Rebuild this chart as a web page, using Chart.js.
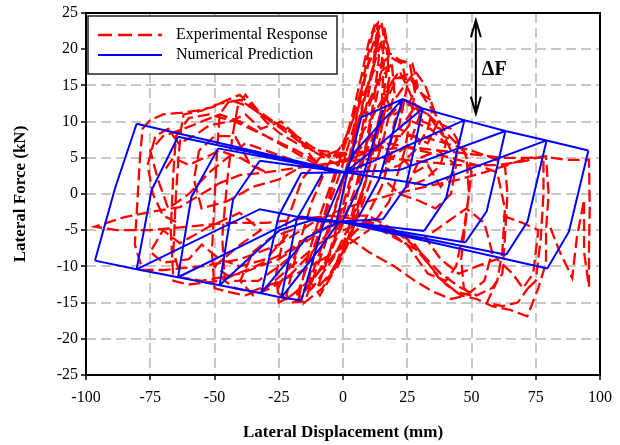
<!DOCTYPE html>
<html>
<head>
<meta charset="utf-8">
<script src="https://cdn.jsdelivr.net/npm/chart.js@4"></script>
<style>
    html, body { margin: 0; padding: 0; background: #fff; }
</style>
</head>
<body>
<canvas id="chart" width="620" height="445"></canvas>
<script>
// Axis ticks
const xTicks = [-100, -75, -50, -25, 0, 25, 50, 75, 100];
const yTicks = [-25, -20, -15, -10, -5, 0, 5, 10, 15, 20, 25];

// Numerical prediction (blue) as [disp mm, force kN]
const numEnvelopePos = [[7.1,10.6],[23.2,13.1],[31,11.8],[47.2,10.2],[63.2,8.7],[79.2,7.4],[95.5,6.0]];
const numEnvelopeNeg = [[-96.5,-9.2],[-80.3,-10.4],[-64.2,-11.5],[-48,-12.6],[-31.8,-13.7],[-24,-14.3],[-16.2,-14.7]];
const numUnloadPos = [
    [[95.5,6.0],[87.9,-5.2],[79.5,-10.3]],
    [[79.2,7.4],[71.8,-3.8],[63.5,-8.4]],
    [[63.2,8.7],[55.9,-2.4],[47.6,-6.7]],
    [[47.2,10.2],[40.1,-0.6],[31.6,-5.1]],
    [[31,11.8],[24.5,1.0],[15.5,-3.5]],
    [[23.2,13.1],[14,2.0],[6,-3.2]],
    [[15.5,11.6],[7,1.5],[0,-3.6]]
];
const numSlipPos = [
    [[79.5,-10.3],[-1.4,-3.8]],
    [[63.5,-8.4],[-1.4,-3.8]],
    [[47.6,-6.7],[-1.4,-3.8]],
    [[31.6,-5.1],[-1.4,-3.8]],
    [[15.5,-3.5],[-1.4,-3.8]]
];
const numReloadNeg = [
    [[-1.4,-3.8],[-9.1,-3.8],[-24,-2.7],[-32.4,-2.1],[-80.3,-10.4]],
    [[-1.4,-3.8],[-16.2,-3.1],[-64.2,-11.5]],
    [[-1.4,-3.8],[-12,-3.6],[-24.7,-5],[-48,-12.6]],
    [[-1.4,-3.8],[-14,-6],[-31.8,-13.7]],
    [[-1.4,-3.8],[-10,-8],[-24,-14.3]]
];
const numUnloadNeg = [
    [[-96.5,-9.2],[-88.7,0.8],[-80.3,9.7]],
    [[-80.3,-10.4],[-74.5,0.5],[-64.2,7.9]],
    [[-64.2,-11.5],[-59,-0.4],[-48.6,6.3]],
    [[-48,-12.6],[-42.8,-0.8],[-32.4,4.6]],
    [[-31.8,-13.7],[-25,-3],[-16.2,2.9]],
    [[-24,-14.3],[-18,-3.5],[-8,2.8]],
    [[-16.2,-14.7],[-8,-4.5],[0.8,3.0]]
];
const numSlipNeg = [
    [[-80.3,9.7],[0.8,3.0]],
    [[-64.2,7.9],[0.8,3.0]],
    [[-48.6,6.3],[0.8,3.0]],
    [[-32.4,4.6],[0.8,3.0]],
    [[-16.2,2.9],[0.8,3.0]]
];
const numReloadPos = [
    [[0.8,3.0],[24.5,1.7],[32.3,1.2],[79.2,7.4]],
    [[0.8,3.0],[21.9,3.3],[63.2,8.7]],
    [[0.8,3.0],[11.6,4.5],[47.2,10.2]],
    [[0.8,3.0],[8,5],[31,11.8]],
    [[0.8,3.0],[5,6],[23.2,13.1]],
    [[-2.6,-4.0],[1.9,3.3],[7.1,10.6]]
];

// Experimental response (red), traced loop by loop
const expCore = [[0,0],[3,6],[6,12],[9,18],[12,23],[13.5,23.6],[11.5,17],[8,10],[4,3],[0,-3],[-5,-8],[-10,-11],[-14,-13],[-11,-8],[-6,-2],[-1,3],[4,9],[8,15],[11,20],[15,23.8],[16,21],[14,15],[10,8],[5,1],[0,-4],[-6,-9],[-12,-12],[-17,-14],[-14,-9],[-9,-3],[-4,2],[1,7],[6,13],[10,18],[14,21],[17,20],[18,16],[14,9],[9,2],[3,-4],[-4,-9],[-12,-13],[-19,-15],[-22,-14],[-18,-8],[-12,-1],[-6,4],[0,7],[6,12],[12,17],[18,19],[23,18],[25,15],[21,8],[15,1],[8,-4],[0,-7],[-10,-11],[-20,-14],[-25,-15],[-26,-11],[-22,-4],[-16,2],[-9,5],[-2,6],[5,9],[13,15],[20,18.5],[26,18],[28,14],[24,6],[18,-1],[10,-5],[2,-7],[-8,-9]];
const expCore2 = [[-18,-14],[-14,-10],[-9,-5],[-5,0],[-1,5],[3,10],[7,16],[10,21],[12,23],[14,19],[12,13],[9,7],[6,1],[2,-5],[-3,-10],[-8,-13],[-15,-15],[-11,-11],[-7,-7],[-3,-2],[1,3],[5,8],[9,14],[13,19],[16,22],[18,20],[16,14],[12,7],[8,1],[4,-4],[0,-8],[-5,-11],[-10,-13],[-6,-9],[-2,-4],[2,1],[6,6],[10,12],[15,17],[19,18],[20,14],[16,8],[11,2],[6,-3],[1,-7],[-4,-11],[-9,-14],[-13,-12],[-8,-7],[-4,-3],[0,2],[4,7],[8,13],[12,18],[14,22],[16,19],[15,12],[11,5],[7,-1],[3,-6],[-2,-10],[-7,-12]];
const expUpperRight = [[5,3],[12,8],[18,12],[24,15],[28,17],[32,15],[35,12],[33,9],[28,6],[22,4],[15,3],[20,7],[27,10],[34,9],[40,7],[38,4],[32,2],[25,1],[30,5],[37,6],[44,4],[42,0],[36,-2],[30,-1],[22,0],[16,2],[20,10],[24,13],[30,11],[26,7],[19,5],[14,7],[18,15],[22,17],[26,14],[31,10],[38,9],[42,6]];
const expUpperRight2 = [[16,23],[18,19.5],[22,18.5],[27,18],[29,15],[25,12],[20,11],[17,13],[21,16],[25,16.5],[30,14],[34,13],[37,10],[33,7],[27,8],[22,9],[28,12],[33,11],[39,8],[45,7],[43,3],[38,1],[33,4],[28,3],[23,5]];
const expUpperLeft = [[-10,4],[-20,6],[-30,8],[-40,10],[-48,11],[-55,10],[-62,9],[-70,8],[-75,6],[-72,2],[-68,-2],[-60,0],[-52,3],[-45,5],[-38,7],[-30,6],[-22,5],[-15,4],[-25,2],[-35,1],[-45,-1],[-55,-2],[-58,2],[-56,6],[-50,8],[-42,8],[-36,4],[-30,3],[-40,5],[-48,6],[-54,5],[-60,4],[-66,5],[-70,3]];
const expUpperLeft2 = [[-5,3],[-12,5],[-18,8],[-24,10],[-32,9],[-38,11],[-44,10],[-52,9.5],[-58,8],[-64,7],[-68,9],[-73,8],[-76,4],[-74,0],[-70,-3],[-64,-4]];
const expLowerLeft = [[-5,-5],[-12,-8],[-20,-11],[-28,-13],[-35,-14],[-40,-12],[-35,-8],[-28,-6],[-20,-5],[-30,-9],[-40,-10],[-48,-9],[-55,-7],[-60,-9],[-70,-9.5],[-75,-8],[-70,-5],[-63.5,-6.8],[-52,-4.5],[-40.2,-2.6],[-32,-5],[-40,-7],[-50,-10],[-42,-12],[-33,-12],[-25,-10],[-18,-8],[-26,-13.5],[-20,-15],[-14,-14.8]];
const expLowerRight = [[2,-6],[10,-8],[20,-10],[28,-12],[35,-13.5],[42,-14.5],[48,-14],[55,-12],[58,-8],[55,-4],[48,-2],[40,-4],[32,-6],[38,-9],[45,-11],[52,-10],[60,-9],[66,-11],[70,-13],[74,-11],[76,-5],[70,-4],[62,-3]];
const expLoop50 = [[-8,-9],[-18,-11],[-28,-12.5],[-36,-13.5],[-42,-13],[-46,-12],[-47,-6],[-45,2],[-43,8],[-41,12],[-38,13.7],[-33,11.5],[-27,10],[-20,8.5],[-12,6.5],[-5,5],[3,6],[12,11],[20,16],[27,16],[32,13],[36,11],[40,8.5],[44,7],[48,5.5],[49,0],[47,-5],[44,-10],[40,-12],[33,-11],[25,-7],[17,-5],[8,-4],[0,-5],[-10,-7],[-20,-10],[-30,-13],[-38,-14],[-45,-13.5],[-50,-13],[-51,-8],[-50,-1],[-49,6],[-48,11],[-44,13],[-36,12],[-28,10],[-20,8],[-12,6],[-3,5],[6,6],[16,10],[24,13],[30,12],[36,10],[42,9],[47,6],[50,3],[48,-3],[46,-9],[47,-13],[50,-14],[44,-13.5],[37,-11.5],[28,-7],[20,-5],[10,-3],[0,-3]];
const expLoop75 = [[0,-3],[-12,-6],[-25,-9],[-40,-11],[-55,-12],[-63,-11.5],[-66,-8],[-65,0],[-64,5],[-63,9],[-62,11],[-55,11.5],[-48,12.5],[-40,13],[-32,11],[-22,9],[-12,6],[-2,4],[10,6],[20,8],[30,8],[40,7],[50,6],[58,5],[63,4],[64,0],[63,-6],[62,-11],[58,-13],[52,-14],[46,-13],[38,-11],[30,-8],[20,-6],[10,-4],[0,-4],[-10,-5],[-22,-8],[-34,-10],[-48,-12],[-60,-12.5],[-66,-12],[-67,-5],[-66,3],[-65,8],[-60,10.5],[-52,11],[-42,10],[-30,8],[-18,6],[-8,4],[4,5],[18,7],[30,6],[42,5],[52,4],[60,3],[63,-2],[62,-8],[60,-12],[56,-15],[62,-15.5],[68,-15],[72,-13]];
const expLoop80 = [[72,-13],[75,-12],[77,-6],[78,0],[78,5],[72,5],[64,4],[55,3],[45,2],[32,1],[20,0],[10,-1],[0,-2],[-12,-4],[-25,-7],[-40,-9],[-55,-10],[-70,-10.5],[-78,-10.5],[-81,-7],[-80,-1],[-79,5],[-78,9],[-75,10.2],[-70,11],[-63.5,11.2],[-57,11.5],[-50.7,12],[-45,13],[-40.2,13.7],[-35,12],[-30,10],[-24.7,8.4],[-18,7],[-11.8,6.1],[-5,5.8],[2,5.6],[12,6],[25,6.5],[38,6],[50,5.5],[62,5],[72,5],[79,5.2],[80,0],[79,-5],[79,-9.5],[76,-13],[71.7,-16.9],[65,-16],[58,-15.5],[52,-14.5],[46,-14],[40,-12.5],[34,-10],[27,-7],[20,-5],[12,-4],[5,-3.5]];
const expLoop100 = [[5,-3.5],[-5,-3],[-18,-3.5],[-30,-4],[-45,-4],[-60,-4.5],[-75,-5],[-88,-5],[-96.5,-4.5],[-85,-3.2],[-75,-2.5],[-63.5,-1.8],[-55,0],[-48,1.5],[-40.2,2.6],[-30,3],[-20,3.5],[-10,4],[0,4.5],[15,5],[30,4.5],[45,4],[60,4],[70,4.5],[78,5.2],[86.7,4.7],[95.7,4.7],[96,-2],[95.7,-8],[95.7,-12.8],[93.8,-8],[93.8,-0.8],[91,-6],[89.2,-11.6],[84,-7.7],[80,-4]];

const serif = "'Liberation Serif', 'Times New Roman', serif";

function joinPaths(paths) {
    const out = [];
    paths.forEach((p, i) => {
        if (i > 0) out.push({x: NaN, y: NaN}); // break the line
        p.forEach(pt => out.push({x: pt[0], y: pt[1]}));
    });
    return out;
}

const numericalData = joinPaths([numEnvelopePos, numEnvelopeNeg, ...numUnloadPos, ...numSlipPos,
    ...numReloadNeg, ...numUnloadNeg, ...numSlipNeg, ...numReloadPos]);
const experimentalData = joinPaths([expCore, expCore2, expUpperRight, expUpperRight2, expUpperLeft,
    expUpperLeft2, expLowerLeft, expLowerRight, expLoop50, expLoop75, expLoop80, expLoop100]);

// frame, legend box and the delta F arrow
const extras = {
    id: 'extras',
    afterDatasetsDraw(chart) {
        const ctx = chart.ctx;
        const a = chart.chartArea;
        const xs = chart.scales.x, ys = chart.scales.y;
        ctx.save();

        // legend
        ctx.fillStyle = '#fff';
        ctx.fillRect(88, 16, 249, 58);
        ctx.strokeStyle = '#222';
        ctx.lineWidth = 1.5;
        ctx.strokeRect(88, 16, 249, 58);
        ctx.lineWidth = 2.5;
        ctx.strokeStyle = '#ff0000';
        ctx.setLineDash([14, 6]);
        ctx.beginPath(); ctx.moveTo(98, 35); ctx.lineTo(162, 35); ctx.stroke();
        ctx.setLineDash([]);
        ctx.lineWidth = 2;
        ctx.strokeStyle = '#0000ff';
        ctx.beginPath(); ctx.moveTo(98, 55); ctx.lineTo(162, 55); ctx.stroke();
        ctx.fillStyle = '#000';
        ctx.font = '16px ' + serif;
        ctx.textBaseline = 'middle';
        ctx.textAlign = 'left';
        ctx.fillText('Experimental Response', 176, 35);
        ctx.fillText('Numerical Prediction', 176, 55);

        // delta F arrow
        const ax = xs.getPixelForValue(51.7);
        const top = ys.getPixelForValue(24), bot = ys.getPixelForValue(11.1);
        ctx.strokeStyle = '#000';
        ctx.lineWidth = 2;
        ctx.beginPath();
        ctx.moveTo(ax, top); ctx.lineTo(ax, bot);
        ctx.moveTo(ax - 5, top + 17); ctx.lineTo(ax, top); ctx.lineTo(ax + 5, top + 17);
        ctx.moveTo(ax - 5, bot - 17); ctx.lineTo(ax, bot); ctx.lineTo(ax + 5, bot - 17);
        ctx.stroke();
        ctx.font = 'bold 20px ' + serif;
        ctx.fillText('\u0394F', ax + 6, 70);

        // plot frame
        ctx.strokeStyle = '#000';
        ctx.lineWidth = 2;
        ctx.strokeRect(a.left, a.top, a.right - a.left, a.bottom - a.top);
        ctx.restore();
    }
};

const ctx = document.getElementById('chart').getContext('2d');
new Chart(ctx, {
    type: 'scatter',
    data: {
        datasets: [{
            label: 'Numerical Prediction',
            data: numericalData,
            showLine: true,
            borderColor: '#0000ff',
            borderWidth: 2,
            pointRadius: 0,
            spanGaps: false
        }, {
            label: 'Experimental Response',
            data: experimentalData,
            showLine: true,
            borderColor: '#ff0000',
            borderWidth: 2.3,
            borderDash: [12, 5],
            pointRadius: 0,
            spanGaps: false
        }]
    },
    options: {
        responsive: false,
        animation: false,
        devicePixelRatio: 1,
        layout: { padding: { top: 13, right: 19, left: 0, bottom: 0 } },
        plugins: { legend: { display: false }, tooltip: { enabled: false } },
        scales: {
            x: {
                type: 'linear',
                min: xTicks[0], max: xTicks[xTicks.length - 1],
                afterBuildTicks: s => { s.ticks = xTicks.map(v => ({value: v})); },
                afterFit: s => { s.height = 70; },
                grid: { color: '#c8c8c8', lineWidth: 2, tickColor: '#000', tickLength: 5, tickWidth: 1.5 },
                border: { display: false, dash: [10, 5] },
                ticks: { color: '#000', padding: 8, maxRotation: 0, font: { family: serif, size: 16 } },
                title: { display: true, text: 'Lateral Displacement (mm)', color: '#000',
                         padding: { top: 0, bottom: 2 }, font: { family: serif, size: 17, weight: 'bold' } }
            },
            y: {
                type: 'linear',
                min: yTicks[0], max: yTicks[yTicks.length - 1],
                afterBuildTicks: s => { s.ticks = yTicks.map(v => ({value: v})); },
                afterFit: s => { s.width = 86; },
                grid: { color: '#c8c8c8', lineWidth: 2, tickColor: '#000', tickLength: 5, tickWidth: 1.5 },
                border: { display: false, dash: [10, 5] },
                ticks: { color: '#000', padding: 3, font: { family: serif, size: 16 } },
                title: { display: true, text: 'Lateral Force (kN)', color: '#000',
                         padding: { top: 10, bottom: 0 }, font: { family: serif, size: 17, weight: 'bold' } }
            }
        }
    },
    plugins: [extras]
});
</script>
</body>
</html>
